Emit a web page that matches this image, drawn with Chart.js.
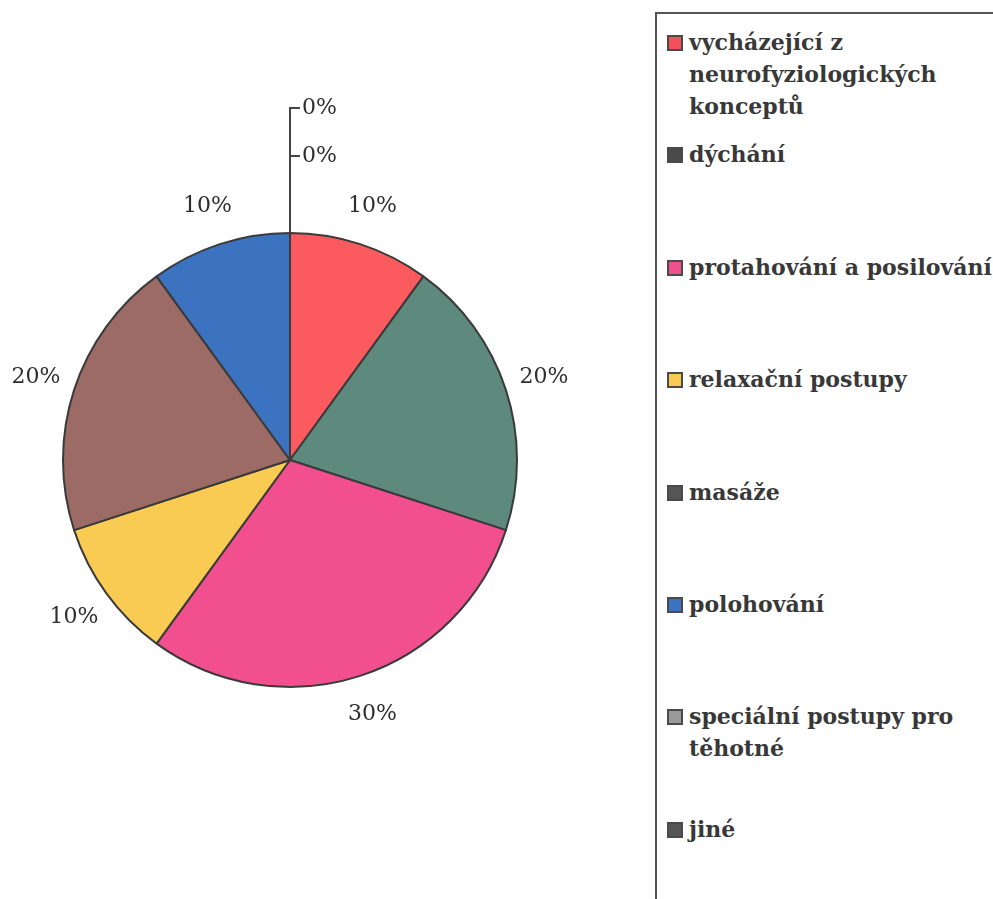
<!DOCTYPE html>
<html>
<head>
<meta charset="utf-8">
<script src="https://cdn.jsdelivr.net/npm/chart.js@4"></script>
<style>
  html, body { margin: 0; padding: 0; background: #fff; }
  #wrap { position: relative; width: 993px; height: 899px; overflow: hidden; }
  #pieCanvas { position: absolute; left: 0; top: 0; }
  #legend {
    position: absolute; left: 655px; top: 12px; width: 400px; height: 950px;
    border-left: 2px solid #555; border-top: 2px solid #555;
    font-family: "DejaVu Serif", serif; font-weight: bold; font-size: 22px;
    color: #383838;
  }
  .legend-item { position: absolute; left: 10px; width: 330px; line-height: 32px; }
  .legend-box {
    position: absolute; left: 0; top: 9px; width: 12px; height: 12px;
    border: 2px solid #4a4a4a;
  }
  .legend-text { margin-left: 22px; }
</style>
</head>
<body>
<div id="wrap">
  <canvas id="pieCanvas" width="640" height="899"></canvas>
  <div id="legend"></div>
</div>
<script>
const categories = [
  'vycházející z neurofyziologických konceptů',
  'dýchání',
  'protahování a posilování',
  'relaxační postupy',
  'masáže',
  'polohování',
  'speciální postupy pro těhotné',
  'jiné'
];
const shares = [10, 20, 30, 10, 20, 10, 0, 0];

// slice fills and the legend swatch fills
const sliceColors = ['#fb5a5e', '#5e8a7e', '#f24f8f', '#f9cb52', '#9c6b65', '#3b73c0', '#9a9a9a', '#4a4a4a'];
const swatchColors = ['#f4505a', '#4a4a4a', '#f0508e', '#f7cb50', '#555555', '#3b73c0', '#9a9a9a', '#555555'];

document.addEventListener('DOMContentLoaded', function() {
    // Build legend
    const legend = document.getElementById('legend');
    categories.forEach((name, i) => {
        const item = document.createElement('div');
        item.className = 'legend-item';
        item.style.top = (12 + i * 112.4) + 'px';
        const box = document.createElement('span');
        box.className = 'legend-box';
        box.style.background = swatchColors[i];
        const text = document.createElement('div');
        text.className = 'legend-text';
        text.textContent = name;
        item.appendChild(box);
        item.appendChild(text);
        legend.appendChild(item);
    });

    // Percent labels outside the pie, zero slices get a leader line
    const pctLabels = {
        id: 'pctLabels',
        afterDatasetsDraw(chart) {
            const ctx = chart.ctx;
            const meta = chart.getDatasetMeta(0);
            const data = chart.data.datasets[0].data;
            const total = data.reduce((a, b) => a + b, 0);
            ctx.save();
            ctx.font = '22px "DejaVu Serif", serif';
            ctx.fillStyle = '#2e2e2e';
            ctx.textBaseline = 'middle';
            let zeroCount = 0;
            meta.data.forEach((arc, i) => {
                const p = arc.getProps(['x', 'y', 'startAngle', 'endAngle', 'outerRadius'], true);
                const pct = Math.round(data[i] / total * 100) + '%';
                if (data[i] === 0) {
                    const topY = p.y - p.outerRadius;
                    const ly = topY - 77 - zeroCount * 48;
                    ctx.strokeStyle = '#444';
                    ctx.lineWidth = 2;
                    ctx.beginPath();
                    ctx.moveTo(p.x, topY);
                    ctx.lineTo(p.x, ly);
                    ctx.lineTo(p.x + 10, ly);
                    ctx.stroke();
                    ctx.textAlign = 'left';
                    ctx.fillText(pct, p.x + 12, ly);
                    zeroCount++;
                    return;
                }
                const mid = (p.startAngle + p.endAngle) / 2;
                const dist = p.outerRadius + 40;
                ctx.textAlign = 'center';
                ctx.fillText(pct, p.x + Math.cos(mid) * dist, p.y + Math.sin(mid) * dist);
            });
            ctx.restore();
        }
    };

    const ctx = document.getElementById('pieCanvas').getContext('2d');
    new Chart(ctx, {
        type: 'pie',
        data: {
            labels: categories,
            datasets: [{
                data: shares,
                backgroundColor: sliceColors,
                borderColor: '#3a3a3a',
                borderWidth: 2
            }]
        },
        options: {
            responsive: false,
            animation: false,
            layout: { padding: { left: 62, right: 122, top: 232, bottom: 211 } },
            plugins: {
                legend: { display: false },
                tooltip: { enabled: false }
            }
        },
        plugins: [pctLabels]
    });
});
</script>
</body>
</html>
